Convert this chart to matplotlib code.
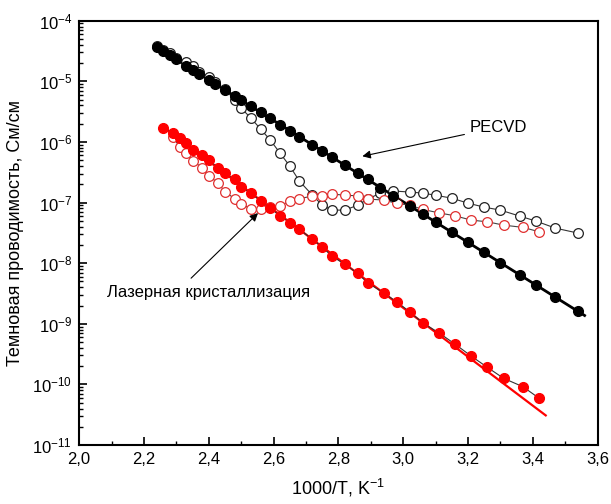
import matplotlib
matplotlib.use("Agg")
import matplotlib.pyplot as plt
from matplotlib.ticker import LogLocator, NullFormatter, MultipleLocator, FixedLocator, FixedFormatter
import numpy as np

plt.rcParams['font.family'] = ['Liberation Sans', 'DejaVu Sans']
plt.rcParams['mathtext.fontset'] = 'custom'
plt.rcParams['mathtext.rm'] = 'Liberation Sans'
plt.rcParams['mathtext.it'] = 'Liberation Sans:italic'
plt.rcParams['axes.unicode_minus'] = False

# PECVD film, 1000/T in K^-1 and dark conductivity in S/cm
pecvd_x = [2.24, 2.26, 2.28, 2.30, 2.33, 2.35, 2.37, 2.40, 2.42, 2.45, 2.48, 2.50,
           2.53, 2.56, 2.59, 2.62, 2.65, 2.68, 2.72, 2.75, 2.78, 2.82, 2.86, 2.89,
           2.93, 2.97, 3.02, 3.06, 3.10, 3.15, 3.20, 3.25, 3.30, 3.36, 3.41, 3.47, 3.54]
pecvd_cool = [3.63e-5, 3.11e-5, 2.67e-5, 2.29e-5, 1.81e-5, 1.55e-5, 1.33e-5, 1.05e-5,
              9.04e-6, 7.18e-6, 5.69e-6, 4.88e-6, 3.87e-6, 3.07e-6, 2.44e-6, 1.93e-6,
              1.53e-6, 1.22e-6, 8.93e-7, 7.10e-7, 5.62e-7, 4.13e-7, 3.03e-7, 2.41e-7,
              1.77e-7, 1.30e-7, 8.83e-8, 6.49e-8, 4.76e-8, 3.24e-8, 2.20e-8, 1.50e-8,
              1.02e-8, 6.41e-9, 4.36e-9, 2.74e-9, 1.60e-9]
pecvd_heat = [3.80e-5, 3.27e-5, 2.91e-5, 2.41e-5, 2.07e-5, 1.77e-5, 1.42e-5, 1.17e-5,
              9.68e-6, 7.41e-6, 4.89e-6, 3.61e-6, 2.47e-6, 1.63e-6, 1.07e-6, 6.53e-7,
              3.99e-7, 2.25e-7, 1.32e-7, 9.06e-8, 7.50e-8, 7.50e-8, 9.06e-8, 1.14e-7,
              1.43e-7, 1.55e-7, 1.49e-7, 1.43e-7, 1.32e-7, 1.18e-7, 9.77e-8, 8.39e-8,
              7.50e-8, 5.97e-8, 4.94e-8, 3.78e-8, 3.13e-8]

# laser crystallized film
laser_x = [2.26, 2.29, 2.31, 2.33, 2.35, 2.38, 2.40, 2.43, 2.45, 2.48, 2.50, 2.53,
           2.56, 2.59, 2.62, 2.65, 2.68, 2.72, 2.75, 2.78, 2.82, 2.86, 2.89, 2.94,
           2.98, 3.02, 3.06, 3.11, 3.16, 3.21, 3.26, 3.31, 3.37, 3.42]
laser_cool = [1.72e-6, 1.40e-6, 1.14e-6, 9.55e-7, 7.40e-7, 6.05e-7, 4.95e-7, 3.72e-7,
              3.02e-7, 2.42e-7, 1.79e-7, 1.43e-7, 1.06e-7, 8.00e-8, 6.08e-8, 4.67e-8,
              3.61e-8, 2.47e-8, 1.84e-8, 1.31e-8, 9.53e-9, 6.78e-9, 4.74e-9, 3.24e-9,
              2.30e-9, 1.58e-9, 1.04e-9, 7.11e-10, 4.62e-10, 2.93e-10, 1.91e-10,
              1.26e-10, 9.14e-11, 5.89e-11]
# heating run starts from the second temperature point
laser_heat = [1.19e-6, 8.30e-7, 6.61e-7, 4.88e-7, 3.74e-7, 2.76e-7, 2.07e-7, 1.50e-7,
              1.16e-7, 9.42e-8, 7.87e-8, 7.80e-8, 8.57e-8, 8.89e-8, 1.05e-7, 1.16e-7,
              1.28e-7, 1.30e-7, 1.38e-7, 1.32e-7, 1.29e-7, 1.14e-7, 1.10e-7, 9.68e-8,
              9.06e-8, 7.71e-8, 6.76e-8, 6.04e-8, 5.13e-8, 4.81e-8, 4.24e-8, 3.89e-8,
              3.29e-8]

x_ticks = [2.0, 2.2, 2.4, 2.6, 2.8, 3.0, 3.2, 3.4, 3.6]
x_labels = ['2,0', '2,2', '2,4', '2,6', '2,8', '3,0', '3,2', '3,4', '3,6']

fig = plt.figure(figsize=(6.11, 5.04), dpi=100)
ax = fig.add_axes([0.1296, 0.117, 0.8484, 0.842])

# Arrhenius fits (straight lines in log scale)
px = np.array(pecvd_x)
pfit = np.polyfit(px, np.log10(pecvd_cool), 1)
pline = np.array([px[0], 3.56])
ax.plot(pline, 10 ** np.polyval(pfit, pline), color='black', lw=2.0, zorder=2)

lx = np.array(laser_x)
sel = lx <= 3.12
lfit = np.polyfit(lx[sel], np.log10(np.array(laser_cool)[sel]), 1)
lline = np.array([lx[0], 3.44])
ax.plot(lline, 10 ** np.polyval(lfit, lline), color='red', lw=1.6, zorder=2)

# measured points
ax.plot(pecvd_x, pecvd_heat, '-', color='#333333', lw=0.8, marker='o', ms=7,
        mfc='white', mec='#222222', mew=0.9, zorder=3)
ax.plot(laser_x[1:], laser_heat, '-', color='#444444', lw=0.8, marker='o', ms=7,
        mfc='white', mec='#e03030', mew=0.9, zorder=3)
ax.plot(pecvd_x, pecvd_cool, '-', color='black', lw=0.8, marker='o', ms=7,
        mfc='black', mec='black', zorder=4)
ax.plot(laser_x, laser_cool, '-', color='#333333', lw=0.8, marker='o', ms=7,
        mfc='red', mec='red', zorder=4)

ax.annotate('PECVD', xy=(2.874, 5.8e-7), xytext=(3.206, 1.75e-6),
            fontsize=12, va='center', ha='left',
            arrowprops=dict(arrowstyle='-|>', color='black', lw=0.8,
                            mutation_scale=12, shrinkA=2, shrinkB=0))
ax.annotate('Лазерная кристаллизация', xy=(2.552, 6.7e-8), xytext=(2.086, 3.3e-9),
            fontsize=12, va='center', ha='left',
            arrowprops=dict(arrowstyle='-|>', color='black', lw=0.8,
                            mutation_scale=12, shrinkA=4, shrinkB=0,
                            relpos=(0.38, 1.0)))

ax.set_yscale('log')
ax.set_xlim(2.0, 3.6)
ax.set_ylim(1e-11, 1e-4)

ax.xaxis.set_major_locator(FixedLocator(x_ticks))
ax.xaxis.set_major_formatter(FixedFormatter(x_labels))
ax.xaxis.set_minor_locator(MultipleLocator(0.1))
ax.yaxis.set_major_locator(LogLocator(base=10, numticks=20))
ax.yaxis.set_minor_locator(LogLocator(base=10, subs=np.arange(2, 10), numticks=20))
ax.yaxis.set_minor_formatter(NullFormatter())

ax.tick_params(which='both', direction='in', top=False, right=False)
ax.tick_params(which='major', length=6, width=1.2, labelsize=12, pad=5)
ax.tick_params(which='minor', length=3, width=1.0)
for s in ax.spines.values():
    s.set_linewidth(1.5)

ax.set_xlabel('1000/T, K$^{-1}$', fontsize=13, labelpad=7)
ax.set_ylabel('Темновая проводимость, См/см', fontsize=13, labelpad=6)

fig.savefig('out.png', dpi=100)
